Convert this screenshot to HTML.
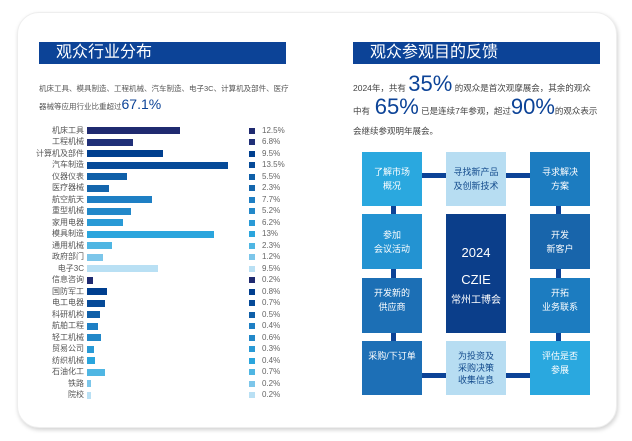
<!DOCTYPE html>
<html><head><meta charset="utf-8"><style>
*{margin:0;padding:0;box-sizing:border-box}
body{width:632px;height:441px;background:#fff;position:relative;overflow:hidden;font-family:"Liberation Sans","Noto Sans CJK SC",sans-serif}
.card{position:absolute;left:17px;top:12px;width:600px;height:416px;border-radius:22px;background:#fff;box-shadow:1px 2px 4px rgba(0,0,0,0.18);border:1px solid #eee}
.a{position:absolute}
.title{position:absolute;height:22px;background:#0c4397;color:#fff;font-size:16px;line-height:22px;padding-left:17px}
.lbl{position:absolute;right:548px;font-size:8px;color:#555;line-height:10px;white-space:nowrap}
.bar{position:absolute;left:87px;height:7px}
.sq{position:absolute;left:249px;width:6px;height:6px}
.val{position:absolute;left:262px;font-size:8px;color:#666;line-height:10px}
.box{position:absolute;width:60px;color:#fff;font-size:9px;line-height:14px;text-align:center;display:flex;flex-direction:column;align-items:center;justify-content:center}
.box div{width:100%}
.con{position:absolute;background:#0c4397}
.t{font-size:8.5px;color:#444;white-space:nowrap}
.b{font-size:22px;color:#0c4397}
</style></head><body>
<div class="card"></div>
<div class="title" style="left:39px;top:42px;width:247px">观众行业分布</div>
<div class="a t" style="left:39px;top:83px;font-size:7.5px;color:#555">机床工具、模具制造、工程机械、汽车制造、电子3C、计算机及部件、医疗</div>
<div class="a t" style="left:39px;top:96px;font-size:7.5px;color:#555">器械等应用行业比重超过<span style="font-size:14px;color:#0c4397">67.1%</span></div>
<div id="rows"></div>
<div class="title" style="left:353px;top:42px;width:247px">观众参观目的反馈</div>
<div class="a t" style="left:353px;top:72px;line-height:24px">2024年，共有 <span class="b">35%</span> 的观众是首次观摩展会，其余的观众</div>
<div class="a t" style="left:353px;top:95px;line-height:24px">中有 &nbsp;<span class="b">65%</span> 已是连续7年参观，超过<span class="b">90%</span>的观众表示</div>
<div class="a t" style="left:353px;top:125px">会继续参观明年展会。</div>
<div class="con" style="left:422px;top:173px;width:108px;height:5px"></div>
<div class="con" style="left:422px;top:373px;width:108px;height:5px"></div>
<div class="con" style="left:391px;top:206px;width:5px;height:135px"></div>
<div class="con" style="left:556px;top:206px;width:5px;height:135px"></div>
<div class="box" style="left:362px;top:152px;height:54px;background:#2aa8df"><div>了解市场<br>概况</div></div>
<div class="box" style="left:446px;top:152px;height:54px;background:#b7ddf2;color:#124a8c"><div>寻找新产品<br>及创新技术</div></div>
<div class="box" style="left:530px;top:152px;height:54px;background:#1c7cc0"><div>寻求解决<br>方案</div></div>
<div class="box" style="left:362px;top:214px;height:55px;background:#2393d2"><div>参加<br>会议活动</div></div>
<div class="box" style="left:530px;top:214px;height:55px;background:#1865ab"><div>开发<br>新客户</div></div>
<div class="box" style="left:362px;top:278px;height:55px;background:#1c6fb5;justify-content:flex-start;padding-top:8px"><div>开发新的<br>供应商</div></div>
<div class="box" style="left:530px;top:278px;height:55px;background:#1c7cc0;justify-content:flex-start;padding-top:8px"><div>开拓<br>业务联系</div></div>
<div class="box" style="left:446px;top:214px;height:119px;background:#0b3e8a"><div style="font-size:13px;line-height:27px">2024<br>CZIE</div><div style="font-size:10px;line-height:16px">常州工博会</div></div>
<div class="box" style="left:362px;top:341px;height:54px;background:#1d6fb6;justify-content:flex-start;padding-top:8px"><div>采购/下订单</div></div>
<div class="box" style="left:446px;top:341px;height:54px;background:#b7ddf2;color:#124a8c;line-height:12px"><div>为投资及<br>采购决策<br>收集信息</div></div>
<div class="box" style="left:530px;top:341px;height:54px;background:#2aa8df;justify-content:flex-start;padding-top:8px"><div>评估是否<br>参展</div></div>
<script>
var d=[["机床工具",180,"12.5%"],["工程机械",133,"6.8%"],["计算机及部件",163,"9.5%"],["汽车制造",228,"13.5%"],["仪器仪表",127,"5.5%"],["医疗器械",109,"2.3%"],["航空航天",152,"7.7%"],["重型机械",131,"5.2%"],["家用电器",123,"6.2%"],["模具制造",214,"13%"],["通用机械",112,"2.3%"],["政府部门",103,"1.2%"],["电子3C",158,"9.5%"],["信息咨询",93,"0.2%"],["国防军工",107,"0.8%"],["电工电器",105,"0.7%"],["科研机构",100,"0.5%"],["航舶工程",98,"0.4%"],["轻工机械",101,"0.6%"],["贸易公司",94,"0.3%"],["纺织机械",95,"0.4%"],["石油化工",105,"0.7%"],["铁路",91,"0.2%"],["院校",91,"0.2%"]];
var c=["#1f2a70","#203078","#003f8f","#064a98","#0f5fa8","#1466ad","#1e7fc4","#2288c9","#299ad6","#2aa5dd","#4fb6e3","#7cc6ea","#b9e0f4","#1f2a70","#003f8f","#064a98","#0f5fa8","#1e7fc4","#2288c9","#299ad6","#2aa5dd","#4fb6e3","#7cc6ea","#b9e0f4"];
var h="";
d.forEach(function(r,i){var y=130.5+i*11.5;
h+='<div class="lbl" style="top:'+(y-5)+'px">'+r[0]+'</div><div class="bar" style="top:'+(y-3.5)+'px;width:'+(r[1]-87)+'px;background:'+c[i]+'"></div><div class="sq" style="top:'+(y-3)+'px;background:'+c[i]+'"></div><div class="val" style="top:'+(y-5)+'px">'+r[2]+'</div>';});
document.getElementById("rows").innerHTML=h;
</script>
</body></html>
